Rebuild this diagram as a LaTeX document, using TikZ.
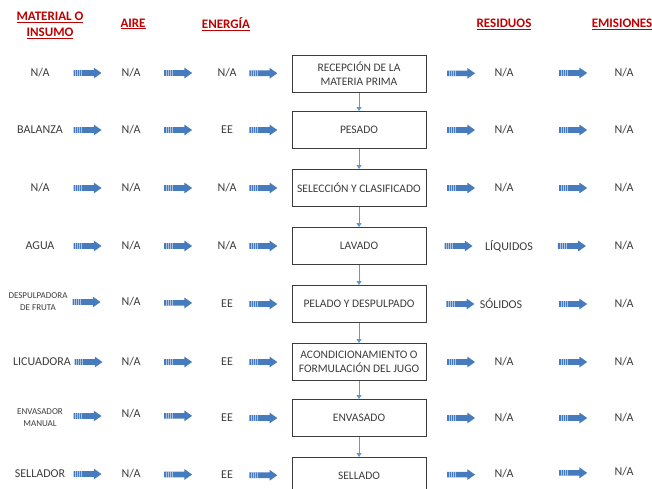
\documentclass[tikz,border=0pt]{standalone}
\usepackage{fontspec}
\setmainfont{Carlito}
\usetikzlibrary{shapes.arrows,arrows.meta}
\definecolor{headred}{RGB}{192,0,0}
\definecolor{flowblue}{RGB}{70,124,190}
\definecolor{linkblue}{RGB}{91,155,213}
\definecolor{inkgray}{RGB}{60,60,60}

\begin{document}
\begin{tikzpicture}[
  x=1pt, y=-1pt,
  head/.style={font=\fontsize{13}{16}\selectfont\bfseries, text=headred, align=center},
  item/.style={font=\fontsize{12}{14}\selectfont, text=inkgray, align=center, inner sep=1pt},
  small/.style={item, font=\fontsize{9}{12}\selectfont},
  stage/.style={draw=inkgray, line width=0.9pt, minimum width=134pt, minimum height=37pt,
    align=center, font=\fontsize{11.5}{14}\selectfont, text=inkgray},
  flow/.style={single arrow, fill=flowblue, draw=none, inner xsep=0pt, inner ysep=2.6pt,
    minimum height=28pt, single arrow head extend=2.6pt, single arrow tip angle=70,
    path picture={\foreach \s in {2,4,6,8}
      \draw[white, opacity=.55, line width=0.35pt] ([xshift=\s pt]path picture bounding box.north west)
        -- ([xshift=\s pt]path picture bounding box.south west);}},
  link/.style={draw=linkblue, line width=0.8pt, -{Triangle[length=4pt, width=5pt]}}
]
  \useasboundingbox (0,0) rectangle (652,489);
  \clip (0,0) rectangle (652,489);

  % Column titles
  \node[head] (mat) at (50,25) {\underline{MATERIAL O}\\\underline{INSUMO}};
  \node[head] (air) at (133,24) {\underline{AIRE}};
  \node[head] (ene) at (226,24) {\underline{ENERGÍA}};
  \node[head] (res) at (504,24) {\underline{RESIDUOS}};
  \node[head] (emi) at (622,24) {\underline{EMISIONES}};

  % Material o insumo
  \node[item]  (m1) at (40,73)  {N/A};
  \node[item]  (m2) at (40,130) {BALANZA};
  \node[item]  (m3) at (40,188) {N/A};
  \node[item]  (m4) at (40,246) {AGUA};
  \node[small] (m5) at (38,302) {DESPULPADORA\\DE FRUTA};
  \node[item]  (m6) at (42,362) {LICUADORA};
  \node[small] (m7) at (40,418) {ENVASADOR\\MANUAL};
  \node[item]  (m8) at (40,474) {SELLADOR};

  % Aire
  \node[item] (a1) at (131,73)  {N/A};
  \node[item] (a2) at (131,130) {N/A};
  \node[item] (a3) at (131,188) {N/A};
  \node[item] (a4) at (131,246) {N/A};
  \node[item] (a5) at (131,302) {N/A};
  \node[item] (a6) at (131,362) {N/A};
  \node[item] (a7) at (131,414) {N/A};
  \node[item] (a8) at (131,474) {N/A};

  % Energia
  \node[item] (e1) at (227,73)  {N/A};
  \node[item] (e2) at (227,130) {EE};
  \node[item] (e3) at (227,188) {N/A};
  \node[item] (e4) at (227,246) {N/A};
  \node[item] (e5) at (227,304) {EE};
  \node[item] (e6) at (227,362) {EE};
  \node[item] (e7) at (227,418) {EE};
  \node[item] (e8) at (227,475) {EE};

  % Process steps
  \node[stage] (p1) at (359,74)  {RECEPCIÓN DE LA\\MATERIA PRIMA};
  \node[stage] (p2) at (359,130) {PESADO};
  \node[stage] (p3) at (359,188) {SELECCIÓN Y CLASIFICADO};
  \node[stage] (p4) at (359,246) {LAVADO};
  \node[stage] (p5) at (359,304) {PELADO Y DESPULPADO};
  \node[stage] (p6) at (359,362) {ACONDICIONAMIENTO O\\FORMULACIÓN DEL JUGO};
  \node[stage] (p7) at (359,418) {ENVASADO};
  \node[stage] (p8) at (359,476) {SELLADO};

  % Residuos
  \node[item] (r1) at (504,73)  {N/A};
  \node[item] (r2) at (504,130) {N/A};
  \node[item] (r3) at (504,188) {N/A};
  \node[item] (r4) at (509,246) {LÍQUIDOS};
  \node[item] (r5) at (501,304) {SÓLIDOS};
  \node[item] (r6) at (504,362) {N/A};
  \node[item] (r7) at (504,418) {N/A};
  \node[item] (r8) at (504,474) {N/A};

  % Emisiones
  \node[item] (s1) at (624,73)  {N/A};
  \node[item] (s2) at (624,130) {N/A};
  \node[item] (s3) at (624,188) {N/A};
  \node[item] (s4) at (624,246) {N/A};
  \node[item] (s5) at (624,304) {N/A};
  \node[item] (s6) at (624,362) {N/A};
  \node[item] (s7) at (624,418) {N/A};
  \node[item] (s8) at (624,472) {N/A};

  % Flow arrows
  \path (m1.center) -- node[flow, pos=.5]{} (a1.center) -- node[flow, pos=.47]{} (e1.center) -- node[flow, pos=.26]{} (p1.center)
        -- node[flow, pos=.69]{} (r1.center) -- node[flow, pos=.56]{} (s1.center);
  \path (m2.center) -- node[flow, pos=.5]{} (a2.center) -- node[flow, pos=.47]{} (e2.center) -- node[flow, pos=.26]{} (p2.center)
        -- node[flow, pos=.69]{} (r2.center) -- node[flow, pos=.56]{} (s2.center);
  \path (m3.center) -- node[flow, pos=.5]{} (a3.center) -- node[flow, pos=.47]{} (e3.center) -- node[flow, pos=.26]{} (p3.center)
        -- node[flow, pos=.69]{} (r3.center) -- node[flow, pos=.56]{} (s3.center);
  \path (m4.center) -- node[flow, pos=.5]{} (a4.center) -- node[flow, pos=.47]{} (e4.center) -- node[flow, pos=.26]{} (p4.center)
        -- node[flow, pos=.65]{} (r4.center) -- node[flow, pos=.53]{} (s4.center);
  \path (m5.center) -- node[flow, pos=.5]{} (a5.center) -- node[flow, pos=.47]{} (e5.center) -- node[flow, pos=.26]{} (p5.center)
        -- node[flow, pos=.70]{} (r5.center) -- node[flow, pos=.57]{} (s5.center);
  \path (m6.center) -- node[flow, pos=.5]{} (a6.center) -- node[flow, pos=.47]{} (e6.center) -- node[flow, pos=.26]{} (p6.center)
        -- node[flow, pos=.69]{} (r6.center) -- node[flow, pos=.56]{} (s6.center);
  \path (m7.center) -- node[flow, pos=.5]{} (a7.center) -- node[flow, pos=.47]{} (e7.center) -- node[flow, pos=.26]{} (p7.center)
        -- node[flow, pos=.69]{} (r7.center) -- node[flow, pos=.56]{} (s7.center);
  \path (m8.center) -- node[flow, pos=.5]{} (a8.center) -- node[flow, pos=.47]{} (e8.center) -- node[flow, pos=.26]{} (p8.center)
        -- node[flow, pos=.69]{} (r8.center) -- node[flow, pos=.56]{} (s8.center);

  % Step links
  \draw[link] (p1) -- (p2);
  \draw[link] (p2) -- (p3);
  \draw[link] (p3) -- (p4);
  \draw[link] (p4) -- (p5);
  \draw[link] (p5) -- (p6);
  \draw[link] (p6) -- (p7);
  \draw[link] (p7) -- (p8);
\end{tikzpicture}
\end{document}
